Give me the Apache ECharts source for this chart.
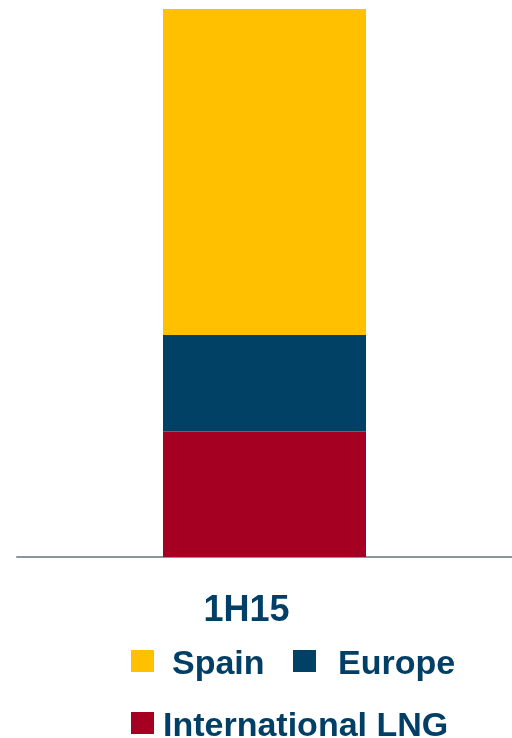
<!DOCTYPE html>
<html>
<head>
<meta charset="utf-8">
<style>
  html, body { margin: 0; padding: 0; background: #ffffff; }
  #chart { width: 512px; height: 738px; }
</style>
<script src="https://cdn.jsdelivr.net/npm/echarts@6/dist/echarts.min.js"></script>
</head>
<body>
<div id="chart"></div>
<script>
// Period shown on the category axis
const categories = ['1H15'];

// Share of the total per segment (%), stacked bottom to top
const internationalLng = [22.9];
const europe = [17.6];
const spain = [59.5];

const FONT = "'Liberation Sans', Arial, sans-serif";
const TEXT_COLOR = '#023F66';
const COLORS = {
  spain: '#FFC000',
  europe: '#004165',
  lng: '#A50021'
};

const chart = echarts.init(document.getElementById('chart'), null, { renderer: 'canvas' });

// Legend label: bold navy text, nudged a little below the icon's centre
const legendText = (padLeft) => ({
  color: TEXT_COLOR,
  fontFamily: FONT,
  fontWeight: 'bold',
  fontSize: 34,
  rich: {
    t: {
      color: TEXT_COLOR,
      fontFamily: FONT,
      fontWeight: 'bold',
      fontSize: 34,
      padding: [8, 0, 0, padLeft]
    }
  }
});

const legendBase = {
  padding: 0,
  icon: 'rect',
  itemWidth: 23,
  itemHeight: 22,
  formatter: (name) => '{t|' + name + '}'
};

chart.setOption({
  animation: false,
  backgroundColor: '#ffffff',
  grid: { left: 17, right: 0, top: 9, bottom: 181, containLabel: false },
  xAxis: {
    type: 'category',
    data: categories,
    axisLine: { show: true, lineStyle: { color: '#8A95A0', width: 2 } },
    axisTick: { show: false },
    axisLabel: {
      color: TEXT_COLOR,
      fontFamily: FONT,
      fontWeight: 'bold',
      fontSize: 36,
      margin: 36,
      padding: [0, 36, 0, 0]
    }
  },
  yAxis: {
    type: 'value',
    min: 0,
    max: 100,
    show: false,
    splitLine: { show: false }
  },
  legend: [
    Object.assign({ data: ['Spain'], left: 131, top: 648, textStyle: legendText(13) }, legendBase),
    Object.assign({ data: ['Europe'], left: 293, top: 648, textStyle: legendText(17) }, legendBase),
    Object.assign({ data: ['International LNG'], left: 131, top: 710, textStyle: legendText(4) }, legendBase)
  ],
  series: [
    {
      name: 'International LNG',
      type: 'bar',
      stack: 'total',
      barWidth: 203,
      data: internationalLng,
      itemStyle: { color: COLORS.lng }
    },
    {
      name: 'Europe',
      type: 'bar',
      stack: 'total',
      barWidth: 203,
      data: europe,
      itemStyle: { color: COLORS.europe }
    },
    {
      name: 'Spain',
      type: 'bar',
      stack: 'total',
      barWidth: 203,
      data: spain,
      itemStyle: { color: COLORS.spain }
    }
  ]
});
</script>
</body>
</html>
